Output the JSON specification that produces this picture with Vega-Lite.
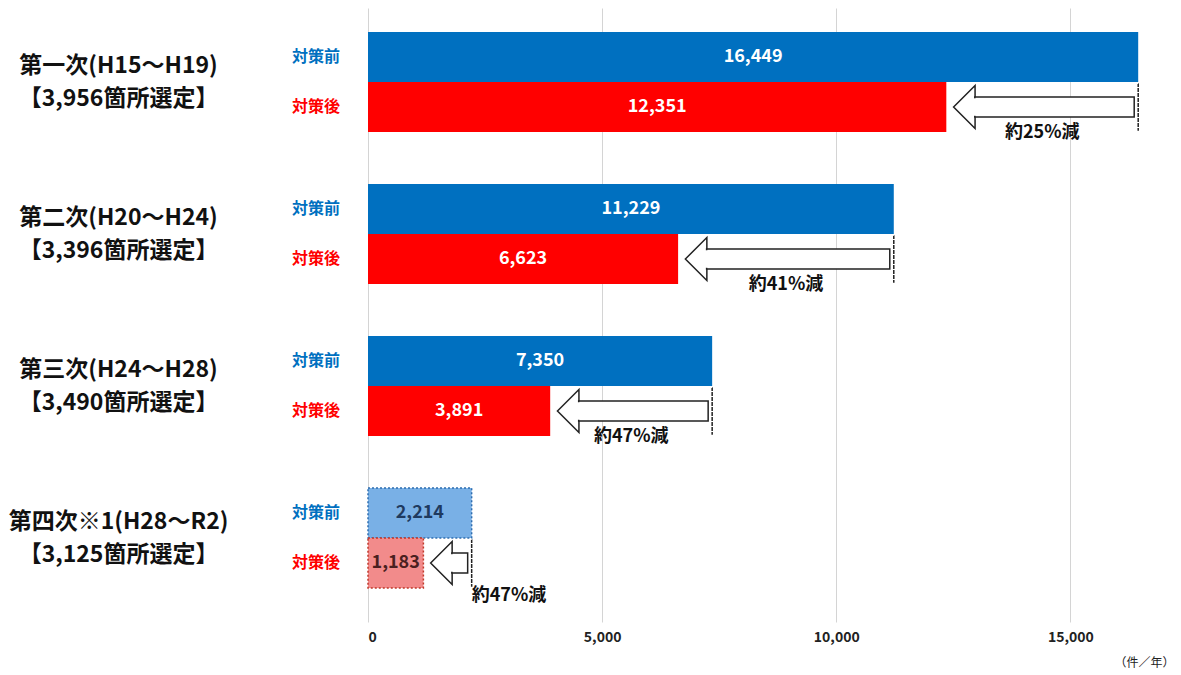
{
  "$schema": "https://vega.github.io/schema/vega-lite/v6.json",
  "width": 796,
  "height": 614,
  "autosize": {"type": "none"},
  "padding": {"left": 368, "top": 8, "right": 17, "bottom": 53},
  "background": "white",
  "config": {"font": "Noto Sans CJK JP", "view": {"stroke": null}},
  "datasets": {
    "bars": [
      {"group": "第一次(H15～H19)\n【3,956箇所選定】", "phase": "対策前", "value": 16449},
      {"group": "第一次(H15～H19)\n【3,956箇所選定】", "phase": "対策後", "value": 12351},
      {"group": "第二次(H20～H24)\n【3,396箇所選定】", "phase": "対策前", "value": 11229},
      {"group": "第二次(H20～H24)\n【3,396箇所選定】", "phase": "対策後", "value": 6623},
      {"group": "第三次(H24～H28)\n【3,490箇所選定】", "phase": "対策前", "value": 7350},
      {"group": "第三次(H24～H28)\n【3,490箇所選定】", "phase": "対策後", "value": 3891},
      {"group": "第四次※1(H28～R2)\n【3,125箇所選定】", "phase": "対策前", "value": 2214},
      {"group": "第四次※1(H28～R2)\n【3,125箇所選定】", "phase": "対策後", "value": 1183}
    ],
    "changes": [
      {"group": "第一次(H15～H19)\n【3,956箇所選定】", "before": 16449, "after": 12351, "pct": "約25%減"},
      {"group": "第二次(H20～H24)\n【3,396箇所選定】", "before": 11229, "after": 6623, "pct": "約41%減"},
      {"group": "第三次(H24～H28)\n【3,490箇所選定】", "before": 7350, "after": 3891, "pct": "約47%減"},
      {"group": "第四次※1(H28～R2)\n【3,125箇所選定】", "before": 2214, "after": 1183, "pct": "約47%減"}
    ]
  },
  "encoding": {
    "y": {
      "field": "group",
      "type": "nominal",
      "sort": null,
      "title": null,
      "scale": {"paddingInner": 0.342, "paddingOuter": 0.191, "align": 0.414},
      "axis": {
        "labelExpr": "split(datum.label, '\\n')",
        "labelAlign": "center",
        "labelBaseline": "middle",
        "labelPadding": 250,
        "labelOffset": -16,
        "labelLineHeight": 33,
        "labelFontSize": 23,
        "labelFontWeight": "bold",
        "labelColor": "#111",
        "labelLimit": 0,
        "ticks": false,
        "domain": false,
        "grid": false
      }
    }
  },
  "layer": [
    {
      "layer": [
        {
          "data": {"name": "bars"},
          "transform": [{"filter": "indexof(datum.group, '第四次') < 0"}],
          "mark": {"type": "bar"},
          "encoding": {
            "x": {
              "field": "value",
              "type": "quantitative",
              "scale": {"domain": [0, 17000], "nice": false},
              "axis": {
                "values": [0, 5000, 10000, 15000],
                "labelExpr": "format(datum.value, ',')",
                "title": "（件／年）",
                "grid": true,
                "gridColor": "#d4d4d4",
                "domain": false,
                "ticks": false,
                "labelFontSize": 14,
                "labelFontWeight": "bold",
                "labelColor": "#222",
                "labelPadding": 8,
                "titleFontSize": 12,
                "titleFontWeight": "normal",
                "titleColor": "#222",
                "titleAnchor": "end",
                "titleAlign": "right",
                "titleX": 806,
                "titleY": 40,
                "titleBaseline": "middle"
              }
            },
            "yOffset": {"field": "phase", "type": "nominal", "scale": {"domain": ["対策前", "対策後"]}},
            "color": {
              "field": "phase",
              "type": "nominal",
              "scale": {"domain": ["対策前", "対策後"], "range": ["#0070C0", "#FF0000"]},
              "legend": null
            }
          }
        },
        {
          "data": {"name": "bars"},
          "transform": [{"filter": "indexof(datum.group, '第四次') >= 0"}],
          "mark": {"type": "bar", "strokeDash": [2, 2], "strokeWidth": 1.5},
          "encoding": {
            "x": {"field": "value", "type": "quantitative"},
            "yOffset": {"field": "phase", "type": "nominal", "scale": {"domain": ["対策前", "対策後"]}},
            "fill": {"condition": {"test": "datum.phase === '対策前'", "value": "#79B0E6"}, "value": "#F28B8B"},
            "stroke": {"condition": {"test": "datum.phase === '対策前'", "value": "#2E6DB0"}, "value": "#C0392B"}
          }
        },
        {
          "data": {"name": "changes"},
          "mark": {"type": "point", "shape": "M -0.5 0 L 0.5 -1 L 0.5 1 Z", "size": 1849, "filled": true, "fill": "white", "stroke": "#222", "strokeWidth": 1.5, "opacity": 1, "xOffset": 18},
          "encoding": {
            "x": {"field": "after", "type": "quantitative"},
            "yOffset": {"datum": "対策後"}
          }
        },
        {
          "data": {"name": "changes"},
          "mark": {"type": "bar", "height": 20, "fill": "white", "stroke": "#222", "strokeWidth": 1.5, "xOffset": 28.5, "x2Offset": -4},
          "encoding": {
            "x": {"field": "after", "type": "quantitative"},
            "x2": {"field": "before"},
            "yOffset": {"datum": "対策後"}
          }
        },
        {
          "data": {"name": "changes"},
          "mark": {"type": "bar", "height": 17.5, "fill": "white", "strokeWidth": 0, "xOffset": 26, "x2Offset": 31},
          "encoding": {
            "x": {"field": "after", "type": "quantitative"},
            "x2": {"field": "after"},
            "yOffset": {"datum": "対策後"}
          }
        },
        {
          "data": {"name": "changes"},
          "mark": {"type": "tick", "orient": "vertical", "size": 46, "thickness": 0.01, "fill": "transparent", "stroke": "#222", "strokeWidth": 1.5, "strokeDash": [3, 2], "opacity": 1},
          "encoding": {
            "x": {"field": "before", "type": "quantitative"},
            "yOffset": {"datum": "対策後"}
          }
        },
        {
          "data": {"name": "bars"},
          "mark": {"type": "text", "align": "right", "baseline": "middle", "dx": -28, "fontSize": 16, "fontWeight": "bold"},
          "encoding": {
            "x": {"datum": 0},
            "yOffset": {"field": "phase", "type": "nominal", "scale": {"domain": ["対策前", "対策後"]}},
            "text": {"field": "phase"},
            "color": {"condition": {"test": "datum.phase === '対策前'", "value": "#0070C0"}, "value": "#FF0000"}
          }
        },
        {
          "data": {"name": "changes"},
          "transform": [
            {"filter": "indexof(datum.group, '第四次') < 0"},
            {"fold": ["before", "after"], "as": ["k", "v"]}
          ],
          "mark": {"type": "text", "align": "center", "baseline": "middle", "dy": 26, "fontSize": 18, "fontWeight": "bold", "color": "#111"},
          "encoding": {
            "x": {"field": "v", "type": "quantitative", "aggregate": "mean"},
            "yOffset": {"datum": "対策後"},
            "text": {"field": "pct"}
          }
        },
        {
          "data": {"name": "changes"},
          "transform": [{"filter": "indexof(datum.group, '第四次') >= 0"}],
          "mark": {"type": "text", "align": "left", "baseline": "middle", "dy": 33, "fontSize": 18, "fontWeight": "bold", "color": "#111"},
          "encoding": {
            "x": {"field": "before", "type": "quantitative"},
            "yOffset": {"datum": "対策後"},
            "text": {"field": "pct"}
          }
        }
      ]
    },
    {
      "data": {"name": "bars"},
      "mark": {"type": "text", "align": "center", "baseline": "middle", "fontSize": 18, "fontWeight": "bold"},
      "encoding": {
        "x": {"field": "value", "type": "quantitative", "scale": {"domain": [0, 34000], "nice": false}, "axis": null},
        "yOffset": {"field": "phase", "type": "nominal", "scale": {"domain": ["対策前", "対策後"]}},
        "text": {"field": "value", "type": "quantitative", "format": ","},
        "color": {
          "condition": [
            {"test": "indexof(datum.group, '第四次') < 0", "value": "white"},
            {"test": "datum.phase === '対策前'", "value": "#1F3A5F"}
          ],
          "value": "#4A2020"
        }
      }
    }
  ],
  "resolve": {"scale": {"x": "independent"}}
}
